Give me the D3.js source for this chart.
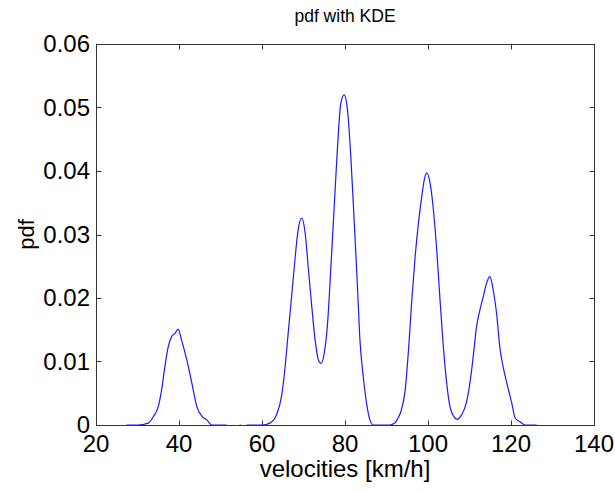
<!DOCTYPE html>
<html>
<head>
<meta charset="utf-8">
<script src="https://cdn.jsdelivr.net/npm/d3@7"></script>
<style>
  body { margin: 0; background: #fff; }
  text { font-family: "Liberation Sans", Arial, sans-serif; fill: #000; }
</style>
</head>
<body>
<div id="chart"></div>
<script>
// velocities [km/h] (null = gap in the curve)
var velocity = [27.3, 30.0, 32.6, 33.8, 35.0, 35.8, 36.6, 37.4, 38.2, 39.0, 39.8, 40.6, 41.9, 43.1, 44.3, 45.5, 46.7, 47.9, 51.5,
  52.0, 54.6, 54.9, 55.5,
  56.3, 60.0, 61.9, 63.5, 64.7, 65.5, 66.3, 67.2, 68.0, 68.7, 69.6, 70.4, 71.2, 72.0, 72.8, 73.6, 74.2, 75.0, 75.8,
  76.6, 77.4, 78.2, 79.0, 79.8, 80.6, 81.4, 82.2, 83.0, 83.6, 84.4, 85.2, 86.0, 86.8, 90.8, 92.0, 92.8, 93.6, 94.5,
  95.3, 96.1, 96.9, 97.7, 98.5, 99.1, 99.7, 100.5, 101.3, 102.1, 102.9, 103.7, 104.5, 105.3, 106.5, 107.1, 108.1,
  109.2, 110.1, 110.9, 111.7, 112.5, 113.3, 114.1, 114.9, 115.7, 116.6, 117.3, 118.1, 119.0, 120.2, 121.0, 122.2,
  123.4, 126.2];
var pdf = [0, 0, 0.0003, 0.0013, 0.0029, 0.0055, 0.0092, 0.0123, 0.0139, 0.0144, 0.0151, 0.0134, 0.0102, 0.0066, 0.0029, 0.0014, 0.0008, 0, 0,
  null, 0, 0, null,
  0, 0, 0.0003, 0.0016, 0.0045, 0.0087, 0.0144, 0.0207, 0.0265, 0.0307, 0.0326, 0.0302, 0.0244, 0.0186, 0.0134, 0.0102, 0.0097, 0.0113, 0.0160,
  0.0249, 0.0344, 0.0438, 0.0507, 0.0520, 0.0496, 0.0423, 0.0323, 0.0218, 0.0134, 0.0076, 0.0034, 0.0008, 0, 0, 0.0003, 0.0011, 0.0024, 0.0055,
  0.0118, 0.0197, 0.0265, 0.0318, 0.0360, 0.0386, 0.0397, 0.0381, 0.0339, 0.0276, 0.0197, 0.0123, 0.0066, 0.0029, 0.0011, 0.0009, 0.0016,
  0.0034, 0.0066, 0.0108, 0.0155, 0.0181, 0.0202, 0.0223, 0.0234, 0.0213, 0.0171, 0.0123, 0.0092, 0.0066, 0.0034, 0.0011, 0.0005,
  0, 0];

var xTicks = [20, 40, 60, 80, 100, 120, 140];
var yTicks = [0, 0.01, 0.02, 0.03, 0.04, 0.05, 0.06];
var yTickLabels = ["0", "0.01", "0.02", "0.03", "0.04", "0.05", "0.06"];

var W = 615, H = 491;
var plotL = 96, plotR = 594, plotT = 44, plotB = 425;

var svg = d3.select("#chart").append("svg")
    .attr("width", W)
    .attr("height", H);

var x = d3.scaleLinear().domain([20, 140]).range([plotL, plotR]);
var y = d3.scaleLinear().domain([0, 0.06]).range([plotB, plotT]);

var data = velocity.map(function(v, i) { return { v: v, p: pdf[i] }; });

// the curve
var line = d3.line()
    .defined(function(d) { return d.p !== null; })
    .curve(d3.curveMonotoneX)
    .x(function(d) { return x(d.v); })
    .y(function(d) { return y(d.p); });

// axis box
svg.append("rect")
    .attr("x", plotL + 0.5)
    .attr("y", plotT + 0.5)
    .attr("width", plotR - plotL)
    .attr("height", plotB - plotT)
    .attr("fill", "none")
    .attr("stroke", "#333")
    .attr("stroke-width", 1);

// ticks (inside, on all four sides)
var tl = 5;
xTicks.forEach(function(t) {
  var px = Math.round(x(t)) + 0.5;
  svg.append("line").attr("x1", px).attr("x2", px).attr("y1", plotB + 0.5).attr("y2", plotB + 0.5 - tl).attr("stroke", "#333");
  svg.append("line").attr("x1", px).attr("x2", px).attr("y1", plotT + 0.5).attr("y2", plotT + 0.5 + tl).attr("stroke", "#333");
});
yTicks.forEach(function(t) {
  var py = Math.round(y(t)) + 0.5;
  svg.append("line").attr("x1", plotL + 0.5).attr("x2", plotL + 0.5 + tl).attr("y1", py).attr("y2", py).attr("stroke", "#333");
  svg.append("line").attr("x1", plotR + 0.5).attr("x2", plotR + 0.5 - tl).attr("y1", py).attr("y2", py).attr("stroke", "#333");
});

svg.append("path")
    .datum(data)
    .attr("d", line)
    .attr("fill", "none")
    .attr("stroke", "#1a1aff")
    .attr("stroke-width", 1.2);

// tick labels
svg.selectAll(".xlab")
    .data(xTicks)
    .enter().append("text")
    .attr("x", function(d) { return x(d); })
    .attr("y", plotB + 27)
    .attr("text-anchor", "middle")
    .style("font-size", "24px")
    .text(function(d) { return d; });

svg.selectAll(".ylab")
    .data(yTicks)
    .enter().append("text")
    .attr("x", plotL - 6)
    .attr("y", function(d) { return y(d) + 8; })
    .attr("text-anchor", "end")
    .style("font-size", "24px")
    .text(function(d, i) { return yTickLabels[i]; });

// title and axis labels
svg.append("text")
    .attr("x", (plotL + plotR) / 2)
    .attr("y", 22)
    .attr("text-anchor", "middle")
    .style("font-size", "17.5px")
    .text("pdf with KDE");

svg.append("text")
    .attr("x", (plotL + plotR) / 2)
    .attr("y", 477)
    .attr("text-anchor", "middle")
    .style("font-size", "24px")
    .text("velocities [km/h]");

svg.append("text")
    .attr("transform", "translate(34," + ((plotT + plotB) / 2) + ") rotate(-90)")
    .attr("text-anchor", "middle")
    .style("font-size", "22px")
    .text("pdf");
</script>
</body>
</html>
